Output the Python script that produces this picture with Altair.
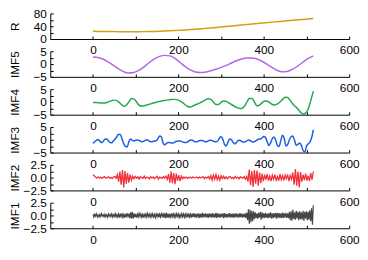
import altair as alt
import pandas as pd

# ---------------- data ----------------
R_STEP = 12
R_VALUES = [24.0, 23.8, 23.6, 23.4, 23.2, 23.0, 22.9, 22.8, 22.8, 22.9, 23.1, 23.4,
            23.8, 24.3, 24.9, 25.6, 26.4, 27.3, 28.3, 29.4, 30.6, 31.9, 33.2, 34.6,
            36.0, 37.5, 39.0, 40.5, 42.0, 43.6, 45.1, 46.7, 48.2, 49.8, 51.3, 52.8,
            54.3, 55.8, 57.2, 58.6, 60.0, 61.3, 62.6, 63.8]

IMF5_STEP = 12
IMF5_VALUES = [2.8, 2.6, 1.9, 0.8, -0.5, -1.9, -3.0, -3.5, -3.3, -2.4, -1.0, 0.6,
               2.0, 3.0, 3.4, 3.2, 2.2, 0.6, -1.0, -2.3, -3.1, -3.3, -3.1, -2.6,
               -2.0, -1.3, -0.5, 0.4, 1.3, 2.0, 2.4, 2.4, 2.0, 1.1, -0.1, -1.4,
               -2.5, -3.0, -2.8, -2.0, -0.7, 0.8, 2.2, 3.2]

IMF4_STEP = 6
IMF4_VALUES = [-0.2, -0.25, -0.3, -0.4, -0.4, -0.3, 0.0, 0.4, 0.7, 0.6, 0.0, -0.9,
               -1.7, -1.3, 0.0, 1.3, 1.2, 0.0, -1.3, -1.6, -1.5, -1.2, -0.9, -0.6,
               -0.3, 0.0, 0.2, 0.4, 0.6, 0.7, 0.85, 1.0, 1.0, 0.8, 0.4, -0.3,
               -1.1, -1.8, -2.0, -1.6, -1.1, -0.7, -0.3, 0.3, 0.9, 1.2, 1.0, 0.0,
               -1.0, -1.0, -0.2, 0.4, 0.2, -0.4, -1.0, -1.6, -2.1, -2.5, -2.6, -1.8,
               -0.2, 1.3, 1.3, 0.0, -1.6, -1.2, -0.4, 0.4, 0.3, -0.3, -1.0, -1.2,
               -0.8, 0.0, 1.0, 1.8, 1.7, 0.6, -0.8, -1.8, -2.8, -4.0, -4.7, -4.4,
               -2.8, 0.5, 4.2]

IMF3_STEP = 4
IMF3_VALUES = [-1.4, -0.8, -0.2, 0.1, -0.5, -1.1, -0.6, 0.2, 0.3, -0.4, -1.0, -1.2,
               -0.4, 0.3, 1.3, 2.2, 2.0, 0.4, -1.5, -2.6, -2.8, -0.8, 0.3, -0.2,
               -0.5, -0.2, -0.1, -0.3, -0.6, -0.8, -0.4, -0.1, -0.1, -0.5, -0.8, -0.7,
               -0.5, -0.4, 0.4, 1.5, 1.2, -1.2, -2.0, -1.4, -1.1, -1.1, -1.3, -1.3,
               -0.9, -0.6, -0.5, -0.5, -0.7, -1.0, -1.1, -1.0, -0.5, -0.2, -0.1, -0.5,
               -0.8, -0.8, -0.4, -0.3, -0.3, -0.6, -0.8, -0.6, -0.3, -0.2, -0.4, -0.7,
               -0.8, -0.5, 0.6, 1.3, 0.2, -1.8, -2.4, -1.0, 0.3, 0.1, -1.0, -1.6,
               -1.0, -0.3, -0.2, -0.6, -0.9, -0.8, -0.4, -0.1, -0.3, -0.7, -0.9, -0.6,
               -0.1, 0.2, 0.3, 0.8, 1.3, 0.9, -0.8, -2.2, -1.2, 0.5, 1.1, -0.2,
               -2.3, -2.6, -0.2, 1.8, 0.5, -2.4, -1.8, 0.0, 1.2, 1.5, -0.2, -2.2,
               -1.8, -1.3, -2.2, -4.2, -4.8, -2.5, -1.6, -0.9, 0.8, 3.9]

IMF2_STEP = 3
IMF2_VALUES = [0.55, 0.35, 0.1, -0.1, 0.15, -0.05, 0.1, -0.15, 0.05, 0.2, -0.1, 0.0,
               0.15, -0.1, 0.05, -0.2, 0.1, 0.2, -0.1,
               0.6, -0.8, 1.2, -1.4, 1.5, -1.9, 1.3, -1.2, 0.9, -1.0, 0.6, -0.5, 0.3,
               -0.2, 0.25, -0.1, 0.15, -0.3, 0.2, 0.0, -0.15, 0.3, -0.2, 0.1, 0.05,
               -0.25, 0.2, -0.1, 0.15, -0.2, 0.05, 0.25, -0.3, 0.1, 0.0, -0.15, 0.2,
               -0.1, 0.3, -0.35,
               0.7, -1.0, 1.2, -1.1, 0.9, -1.3, 0.8, -0.6, 0.5, -0.7, 0.3,
               -0.2, 0.15, -0.1, 0.1, -0.15, 0.05, 0.1, -0.1, 0.15, -0.05, 0.0, 0.1,
               -0.15, 0.1, -0.05, 0.05, 0.15, -0.2, 0.1, -0.1, 0.2, -0.25,
               0.4, -0.5, 0.5, -0.3, 0.6, -0.4, 0.3, -0.5, 0.4, -0.2, 0.3,
               -0.2, 0.15, -0.25, 0.1, 0.2, -0.15, 0.05, -0.2, 0.25, -0.1, 0.1, -0.25,
               0.15, 0.0, -0.1, 0.2, -0.3, 0.25,
               -0.8, 1.6, -1.5, 1.3, -1.8, 1.5, -1.2, 1.4, -1.6, 1.0, -1.1, 0.8, -0.7,
               0.6, -0.4, 0.7, -0.6, 0.3, -0.7, 0.5, -0.3, 0.6, -0.5, 0.2, -0.6,
               0.7, -0.4, 0.4, -0.6, 0.5, -0.2, 0.6, -0.7, 0.4, -0.3,
               1.0, -1.4, 1.7, -1.6, 1.2, -1.9, 1.1,
               -0.8, 0.6, -0.5, 0.8, -0.6, 0.4, -0.7, 0.9, -0.4, 1.2]

IMF1_STEP = 2
IMF1_VALUES = [0.2, -0.3, 0.25, -0.15, 0.3, -0.25, 0.1, -0.3, 0.2, -0.2, 0.35, -0.1,
               0.15, -0.3, 0.25, -0.2, 0.1, -0.35, 0.3, -0.15, 0.2, -0.25, 0.3, -0.3,
               0.15, -0.2, 0.35, -0.25, 0.2, -0.3,
               0.3, -0.4, 0.35, -0.25, 0.4, -0.35, 0.2, -0.45, 0.3, -0.3, 0.45, -0.2,
               0.35, -0.5, 0.6, -0.55, 0.7, -0.6, 0.4, -0.35, 0.3, -0.4, 0.25, -0.3,
               0.4, -0.2, 0.3, -0.35, 0.2, -0.4, 0.35, -0.25, 0.3, -0.3, 0.4, -0.2,
               0.25, -0.35, 0.3, -0.25,
               0.35, -0.3, 0.2, -0.4, 0.3, -0.25, 0.4, -0.35, 0.25, -0.3, 0.35, -0.2,
               0.3, -0.4, 0.45, -0.5, 0.5, -0.4, 0.35, -0.45, 0.3, -0.3, 0.4, -0.25,
               0.3, -0.35, 0.25, -0.3, 0.35, -0.2, 0.3, -0.4, 0.2, -0.3, 0.35, -0.25,
               0.3, -0.35, 0.25, -0.3,
               0.3, -0.35, 0.4, -0.3, 0.25, -0.4, 0.35, -0.3, 0.45, -0.35,
               0.3, -0.4, 0.35, -0.25, 0.4, -0.45, 0.3, -0.35, 0.5, -0.4,
               0.35, -0.3, 0.4, -0.35, 0.3, -0.45, 0.4, -0.3, 0.35, -0.4,
               0.45, -0.35, 0.3, -0.4, 0.5, -0.45, 0.4, -0.35, 0.3, -0.4,
               0.35, -0.3, 0.4, -0.5, 0.45, -0.35, 0.3, -0.4, 0.35, -0.3,
               0.45, -0.4, 0.3, -0.35, 0.4, -0.45, 0.35, -0.3, 0.4, -0.35,
               0.3, -0.4, 0.45, -0.3, 0.35, -0.4, 0.3, -0.35, 0.4, -0.45, 0.5,
               -0.9, 1.2, -1.6, 1.1, -1.3, 0.9, -1.1, 0.8, -0.7, 0.6,
               -0.5, 0.4, -0.6, 0.5, -0.4, 0.7, -0.8, 0.6, -0.5, 0.4,
               -0.45, 0.5, -0.4, 0.35, -0.5, 0.45, -0.4, 0.6, -0.55, 0.4,
               -0.5, 0.45, -0.35, 0.5, -0.6, 0.5, -0.4, 0.45, -0.5, 0.4,
               -0.45, 0.55, -0.5, 0.4, -0.35, 0.5, -0.45, 0.4, -0.5,
               0.7, -0.9, 0.8, -1.0, 1.1, -0.7, 0.6, -0.8, 0.9, -0.6,
               0.7, -0.9, 0.8, -0.7, 0.6, -0.8, 0.9, -1.0, 0.7, -0.6,
               0.8, -0.9, 0.7, -0.8, 1.0, -1.1, 1.4, -1.8, 2.0]

X_DOMAIN = [-100, 600]
X_LABELS = [0, 200, 400, 600]
X_TICKS = [0, 100, 200, 300, 400, 500, 600]

W, H = 304, 26
SPACING = 12.5
FONT = "Liberation Sans"


def panel(values, step, color, title, ydom, ymajor, yticks, fmt, interp, width=1.5):
    df = pd.DataFrame({"x": [i * step for i in range(len(values))], "y": values})
    xs = alt.Scale(domain=X_DOMAIN, nice=False, zero=False)
    ys = alt.Scale(domain=ydom, nice=False, zero=False)
    base = alt.Chart(df)
    main = base.mark_line(color=color, strokeWidth=width, interpolate=interp).encode(
        x=alt.X("x:Q", scale=xs, axis=alt.Axis(
            orient="bottom", values=X_LABELS, format="d", ticks=False, tickSize=0,
            labelPadding=6, labelFlush=False, labelOverlap=False, grid=False, title=None)),
        y=alt.Y("y:Q", scale=ys, axis=alt.Axis(
            orient="left", values=ymajor, format=fmt, ticks=False, tickSize=0,
            labelPadding=4, labelOverlap=False, grid=False, title=title,
            titleX=-36, titleY=H / 2, titleAngle=-90, titleAlign="center",
            titleBaseline="middle")),
    )
    inner = base.mark_line(opacity=0).encode(
        x=alt.X("x:Q", scale=xs, axis=alt.Axis(
            orient="top", offset=-H, values=X_TICKS, labels=False, domain=False,
            tickSize=3, grid=False, title=None)),
        y=alt.Y("y:Q", scale=ys, axis=alt.Axis(
            orient="right", offset=-W, values=yticks, labels=False, domain=False,
            tickSize=3, grid=False, title=None)),
    )
    return alt.layer(main, inner).resolve_axis(x="independent", y="independent").properties(
        width=W, height=H)


big = [-5, 0, 5]
big_t = [-5, -2.5, 0, 2.5, 5]
small = [-2.5, 0, 2.5]
small_t = [-2.5, -1.25, 0, 1.25, 2.5]

charts = [
    panel(R_VALUES, R_STEP, "#D4A010", "R", [0, 80], [0, 40, 80], [0, 20, 40, 60, 80], "d", "monotone"),
    panel(IMF5_VALUES, IMF5_STEP, "#B467E4", "IMF5", [-5, 5], big, big_t, "d", "monotone"),
    panel(IMF4_VALUES, IMF4_STEP, "#27A650", "IMF4", [-5, 5], big, big_t, "d", "monotone"),
    panel(IMF3_VALUES, IMF3_STEP, "#1A5EE0", "IMF3", [-5, 5], big, big_t, "d", "monotone"),
    panel(IMF2_VALUES, IMF2_STEP, "#F2303A", "IMF2", [-2.5, 2.5], small, small_t, ".1f", "linear", 1.3),
    panel(IMF1_VALUES, IMF1_STEP, "#454545", "IMF1", [-2.5, 2.5], small, small_t, ".1f", "linear", 1.2),
]

chart = alt.vconcat(*charts, spacing=SPACING, bounds="flush").properties(
    padding={"left": 1, "top": -2.5, "right": 0, "bottom": -2}
).configure_view(stroke=None).configure_axis(
    labelFont=FONT, titleFont=FONT, labelFontSize=12, titleFontSize=12,
    labelColor="black", titleColor="black", domainColor="black", tickColor="black",
    domainWidth=1, tickWidth=1, titleFontWeight="normal", titlePadding=0,
)

chart.save("out.html", embed_options={"renderer": "svg", "actions": False})
